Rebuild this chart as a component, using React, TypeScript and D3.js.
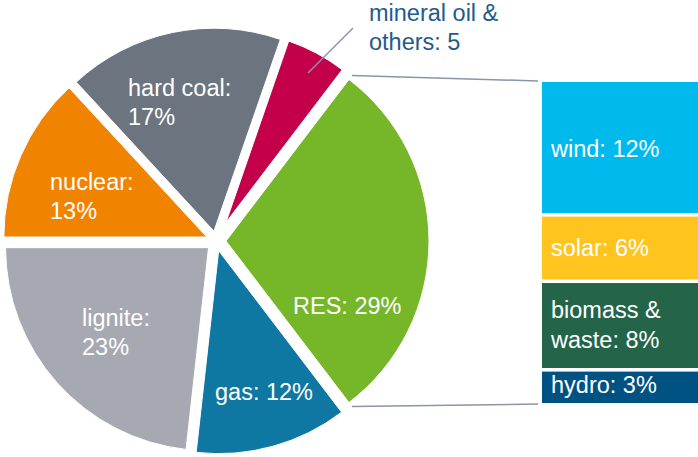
import React from "react";
import * as d3 from "d3";

const sliceNames = ["RES", "gas", "lignite", "nuclear", "hard coal", "mineral oil & others"];
const sliceValues = [29, 12, 23, 13, 17, 5];
const sliceLabels = [["RES: 29%"], ["gas: 12%"], ["lignite:", "23%"], ["nuclear:", "13%"], ["hard coal:", "17%"], ["mineral oil &", "others: 5"]];
const sliceColors = ["#76b72a", "#0e78a2", "#a6a9b1", "#f08300", "#6c757f", "#c4004a"];

const barNames = ["wind", "solar", "biomass & waste", "hydro"];
const barValues = [12, 6, 8, 3];
const barLabels = [["wind: 12%"], ["solar: 6%"], ["biomass &", "waste: 8%"], ["hydro: 3%"]];
const barColors = ["#00b9ed", "#ffc41e", "#24654a", "#005282"];

const W = 698;
const H = 457;
const cx = 216;
const cy = 241;
const R = 203;
const FONT = "'Liberation Sans', Arial, sans-serif";
const FS = 23.5;

export default function App() {
  const total = d3.sum(sliceValues);
  const degPer = 360 / total;
  const ligniteEnd = 270;
  const resStart = ligniteEnd - (sliceValues[0] + sliceValues[1] + sliceValues[2]) * degPer;
  const toRad = (d: number) => (d * Math.PI) / 180;
  const pie = d3
    .pie<number>()
    .sort(null)
    .value((d) => d)
    .startAngle(toRad(resStart))
    .endAngle(toRad(resStart + 360));
  const arcs = pie(sliceValues);

  const explode = [10, 10, 10, 10, 10, 21];
  const radii = [R, R, R, R, R, 192];

  const pt = (a: number, r: number): [number, number] => [Math.sin(a) * r, -Math.cos(a) * r];

  const labelPos: [number, number, string][] = [
    [293, 314, "#fff"],
    [215, 400, "#fff"],
    [82, 326, "#fff"],
    [50, 190, "#fff"],
    [128, 96, "#fff"],
    [369, 21, "#1f5b8c"],
  ];

  const barX = 542;
  const barW = W - barX;
  const yBar = d3.scaleLinear().domain([0, d3.sum(barValues)]).range([82, 403]);
  const cum = d3.cumsum(barValues);
  const barTextY: number[] = [157, 256, 318, 393];

  const res = arcs[0];
  const resOff = pt((res.startAngle + res.endAngle) / 2, explode[0]);
  const cTop = pt(res.startAngle, radii[0] + 5);
  const cBot = pt(res.endAngle, radii[0] + 5);

  return (
    <svg width={W} height={H} style={{ position: "absolute", left: 0, top: 0 }} fontFamily={FONT}>
      <rect width={W} height={H} fill="#fff" />
      {arcs.map((a, i) => {
        const mid = (a.startAngle + a.endAngle) / 2;
        const [ox, oy] = pt(mid, explode[i]);
        const arcGen = d3.arc<any>().innerRadius(0).outerRadius(radii[i]);
        return (
          <path
            key={sliceNames[i]}
            d={arcGen(a) || ""}
            transform={`translate(${cx + ox},${cy + oy})`}
            fill={sliceColors[i]}
            stroke="#fff"
            strokeWidth={1}
          />
        );
      })}
      <line
        x1={cx + resOff[0] + cTop[0]}
        y1={cy + resOff[1] + cTop[1]}
        x2={barX - 4}
        y2={yBar(0) - 1}
        stroke="#8995a8"
        strokeWidth={1.5}
      />
      <line
        x1={cx + resOff[0] + cBot[0]}
        y1={cy + resOff[1] + cBot[1]}
        x2={barX - 4}
        y2={yBar(d3.sum(barValues)) + 1}
        stroke="#8995a8"
        strokeWidth={1.5}
      />
      <line x1={308} y1={73} x2={353} y2={28} stroke="#8995a8" strokeWidth={1.5} />
      {barValues.map((v, i) => {
        const y0 = yBar(cum[i] - v);
        const y1 = yBar(cum[i]);
        return (
          <rect
            key={barNames[i]}
            x={barX}
            y={y0 + (i === 0 ? 0 : 1.8)}
            width={barW}
            height={y1 - y0 - (i === 0 ? 0 : 1.8) - (i === barValues.length - 1 ? 0 : 1.8)}
            fill={barColors[i]}
          />
        );
      })}
      {sliceLabels.map((lines, i) => (
        <text key={"sl" + i} x={labelPos[i][0]} y={labelPos[i][1]} fill={labelPos[i][2]} fontSize={FS}>
          {lines.map((l, j) => (
            <tspan key={j} x={labelPos[i][0]} dy={j === 0 ? 0 : 29}>
              {l}
            </tspan>
          ))}
        </text>
      ))}
      {barLabels.map((lines, i) => (
        <text key={"bl" + i} x={551} y={barTextY[i]} fill="#fff" fontSize={FS}>
          {lines.map((l, j) => (
            <tspan key={j} x={551} dy={j === 0 ? 0 : 30}>
              {l}
            </tspan>
          ))}
        </text>
      ))}
    </svg>
  );
}
